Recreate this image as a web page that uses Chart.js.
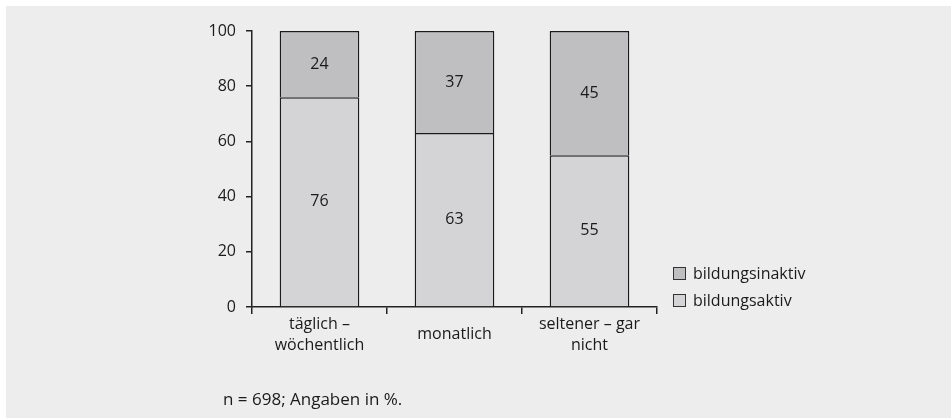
<!DOCTYPE html>
<html>
<head>
<meta charset="utf-8">
<script src="https://cdn.jsdelivr.net/npm/chart.js@4"></script>
<style>
    html, body { margin: 0; padding: 0; background: #fff; }
    body { width: 951px; height: 418px; position: relative; overflow: hidden; font-family: "Open Sans", sans-serif; color: #1a1a1a; }
    .panel { position: absolute; left: 6px; top: 6px; width: 945px; height: 412px; background: #ededed; }
    #chart { position: absolute; left: 0; top: 0; }
    .legend { position: absolute; left: 673px; top: 261px; font-size: 16px; }
    .legend div { height: 27px; line-height: 25px; white-space: nowrap; }
    .legend span { display: inline-block; width: 11px; height: 11px; border: 1px solid #333; margin-right: 7px; vertical-align: -1px; }
    .note { position: absolute; left: 223px; top: 387px; font-size: 17px; line-height: 24px; }
</style>
</head>
<body>
<div class="panel"></div>
<canvas id="chart" width="951" height="418"></canvas>
<div class="legend" id="legend"></div>
<div class="note">n = 698; Angaben in %.</div>
<script>
const categories = [["täglich –", "wöchentlich"], "monatlich", ["seltener – gar", "nicht"]];
const aktiv = [76, 63, 55];
const inaktiv = [24, 37, 45];
const yTicks = [0, 20, 40, 60, 80, 100];

const FONT = "'Open Sans', sans-serif";

//writes the value in the middle of every bar segment
const valueLabels = {
    id: "valueLabels",
    afterDatasetsDraw(chart){
        const ctx = chart.ctx;
        ctx.save();
        ctx.font = "16px " + FONT;
        ctx.fillStyle = "#1a1a1a";
        ctx.textAlign = "center";
        ctx.textBaseline = "middle";
        chart.data.datasets.forEach((ds, i) => {
            chart.getDatasetMeta(i).data.forEach((bar, j) => {
                ctx.fillText(ds.data[j], bar.x, (bar.y + bar.base) / 2);
            });
        });
        ctx.restore();
    }
};

const chart = new Chart(document.getElementById("chart"), {
    type: "bar",
    data: {
        labels: categories,
        datasets: [
            { label: "bildungsaktiv", data: aktiv, backgroundColor: "#d4d4d6", borderColor: "#1a1a1a", borderWidth: 1.5 },
            { label: "bildungsinaktiv", data: inaktiv, backgroundColor: "#bfbfc1", borderColor: "#1a1a1a", borderWidth: 1.5 }
        ]
    },
    options: {
        responsive: false,
        animation: false,
        layout: { padding: { left: 152, right: 294, top: 31, bottom: 51 } },
        datasets: { bar: { categoryPercentage: 1, barPercentage: 0.59 } },
        plugins: { legend: { display: false }, tooltip: { enabled: false } },
        scales: {
            x: {
                stacked: true,
                afterFit(scale){ scale.height = 60; },
                grid: { drawOnChartArea: false, tickLength: 7, color: "#222", lineWidth: 1.5 },
                border: { color: "#222", width: 1.5 },
                ticks: { font: { family: FONT, size: 16, lineHeight: 1.33 }, color: "#1a1a1a", padding: 10, crossAlign: "center", maxRotation: 0 }
            },
            y: {
                stacked: true,
                min: 0,
                max: 100,
                afterFit(scale){ scale.width = 100; },
                afterBuildTicks(scale){ scale.ticks = yTicks.map(v => ({ value: v })); },
                grid: { drawOnChartArea: false, tickLength: 6, color: "#222", lineWidth: 1.5 },
                border: { color: "#222", width: 1.5 },
                ticks: { font: { family: FONT, size: 16 }, color: "#1a1a1a", padding: 10 }
            }
        }
    },
    plugins: [valueLabels]
});

//legend built from the datasets, top one first
document.getElementById("legend").innerHTML = chart.data.datasets.slice().reverse()
    .map(ds => `<div><span style="background:${ds.backgroundColor}"></span>${ds.label}</div>`).join("");
</script>
</body>
</html>
